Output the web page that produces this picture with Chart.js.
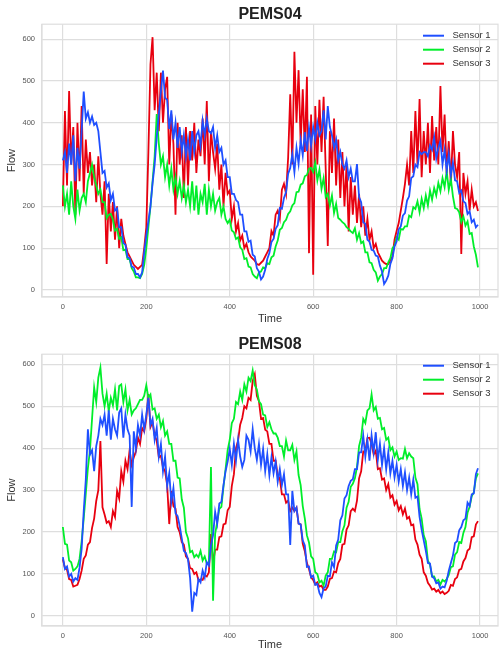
<!DOCTYPE html>
<html>
<head>
<meta charset="utf-8">
<script src="https://cdn.jsdelivr.net/npm/chart.js@4.4.1/dist/chart.umd.min.js"></script>
<style>
  body { margin: 0; background: #fff; }
  canvas { display: block; }
</style>
</head>
<body>
<canvas id="pems04" width="500" height="326"></canvas>
<canvas id="pems08" width="500" height="326"></canvas>
<script>
// sample every 5 time steps
const TIME = Array.from({ length: 200 }, (_, i) => i * 5);
const X_TICKS = [0, 200, 400, 600, 800, 1000];
const Y_TICKS = [0, 100, 200, 300, 400, 500, 600];
const SENSORS = ['Sensor 1', 'Sensor 2', 'Sensor 3'];

// PEMS04
const pems04S1 = [
  310, 330, 280, 350, 300, 370, 260, 340, 290, 380, 475, 410, 425, 400, 415, 395, 400, 380, 330, 280,
  285, 245, 255, 215, 230, 190, 195, 150, 150, 112, 108, 78, 76, 56, 54, 38, 38, 30, 42, 90,
  130, 165, 200, 255, 300, 365, 420, 475, 525, 460, 455, 385, 430, 360, 400, 340, 390, 330, 370, 320,
  360, 310, 380, 330, 370, 380, 345, 405, 370, 410, 380, 375, 390, 340, 370, 330, 340, 300, 310, 270,
  270, 230, 230, 215, 210, 180, 180, 140, 140, 115, 118, 84, 80, 52, 44, 25, 32, 48, 74, 88,
  115, 122, 146, 155, 196, 194, 220, 234, 278, 292, 325, 282, 340, 302, 358, 322, 378, 332, 388, 345,
  390, 360, 400, 370, 380, 430, 360, 440, 390, 370, 340, 360, 310, 330, 300, 290, 310, 270, 290, 260,
  260, 301, 222, 210, 162, 158, 120, 116, 96, 94, 82, 80, 58, 44, 14, 22, 34, 62, 76, 104,
  116, 145, 152, 178, 184, 214, 224, 268, 272, 300, 294, 330, 325, 330, 330, 320, 345, 335, 365, 315,
  340, 357, 300, 335, 285, 325, 275, 305, 262, 260, 232, 238, 212, 208, 182, 188, 162, 168, 150, 156
];
const pems04S2 = [
  250, 200, 230, 180, 260, 200, 170, 240, 190, 220, 230, 210, 260, 280, 300, 270, 250, 230, 240, 210,
  210, 172, 180, 182, 168, 142, 146, 122, 126, 95, 96, 74, 74, 52, 44, 30, 30, 28, 38, 60,
  100, 150, 200, 260, 320, 421, 350, 300, 320, 270, 300, 250, 290, 240, 270, 230, 260, 220, 250, 210,
  240, 200, 260, 190, 250, 180, 230, 210, 254, 180, 240, 200, 230, 190, 210, 220, 180, 200, 170, 160,
  168, 142, 138, 122, 126, 102, 96, 74, 76, 56, 54, 38, 32, 28, 42, 44, 54, 52, 64, 62,
  78, 82, 104, 118, 144, 148, 162, 168, 182, 188, 202, 208, 234, 235, 252, 255, 272, 275, 290, 292,
  282, 305, 262, 288, 242, 268, 222, 230, 202, 226, 184, 206, 172, 168, 162, 158, 150, 146, 140, 136,
  148, 120, 136, 112, 116, 90, 90, 66, 64, 48, 42, 22, 32, 38, 52, 52, 66, 76, 100, 106,
  126, 120, 146, 144, 152, 152, 178, 174, 198, 194, 212, 186, 218, 196, 226, 202, 238, 216, 244, 226,
  256, 236, 268, 246, 285, 240, 266, 224, 196, 194, 186, 162, 176, 154, 164, 134, 136, 104, 84, 54
];
const pems04S3 = [
  200, 428, 250, 476, 300, 390, 180, 400, 260, 440, 230, 360, 280, 330, 250, 300, 210, 320, 230, 180,
  260, 62, 230, 140, 210, 120, 200, 100, 170, 130, 110, 90, 80, 70, 60, 55, 50, 55, 60, 100,
  150, 330, 540, 605, 430, 520, 380, 520, 400, 480, 510, 300, 420, 350, 180, 400, 300, 370, 220, 390,
  250, 380, 310, 400, 280, 360, 320, 410, 300, 452, 260, 380, 330, 290, 350, 240, 300, 200, 280, 230,
  238, 170, 200, 140, 160, 118, 130, 100, 110, 90, 80, 75, 70, 62, 60, 65, 70, 80, 90, 100,
  141, 130, 180, 190, 170, 240, 254, 230, 317, 468, 300, 570, 400, 526, 350, 480, 330, 510, 88, 420,
  36, 440, 300, 455, 330, 462, 290, 105, 380, 280, 410, 250, 360, 220, 330, 200, 300, 140, 270, 180,
  250, 160, 230, 150, 200, 130, 170, 120, 140, 100, 110, 90, 80, 70, 65, 62, 62, 70, 80, 120,
  141, 160, 190, 220, 254, 300, 250, 380, 280, 428, 300, 457, 270, 380, 300, 400, 280, 416, 310, 390,
  300, 488, 330, 420, 280, 356, 250, 380, 300, 270, 330, 86, 280, 230, 260, 190, 240, 200, 210, 189
];

// PEMS08
const pems08S1 = [
  140, 112, 118, 94, 100, 82, 90, 86, 115, 160, 250, 325, 445, 385, 395, 345, 405, 430, 470, 455,
  480, 430, 490, 420, 470, 445, 430, 485, 495, 425, 480, 445, 430, 260, 440, 400, 455, 430, 480, 445,
  480, 520, 455, 470, 420, 448, 380, 410, 345, 380, 310, 340, 272, 305, 245, 238, 215, 185, 155, 150,
  135, 90, 10, 55, 50, 88, 80, 108, 92, 128, 120, 168, 192, 248, 220, 268, 272, 312, 345, 368,
  398, 360, 410, 370, 420, 380, 355, 372, 430, 420, 392, 445, 400, 372, 410, 360, 398, 345, 385, 335,
  378, 340, 368, 320, 350, 312, 338, 290, 290, 169, 298, 250, 258, 220, 218, 180, 168, 117, 118, 92,
  96, 74, 76, 55, 45, 66, 70, 96, 94, 128, 116, 168, 182, 228, 240, 280, 288, 310, 322, 326,
  350, 350, 390, 390, 430, 380, 420, 370, 430, 390, 438, 372, 410, 360, 400, 350, 390, 340, 370, 330,
  360, 320, 350, 310, 342, 300, 330, 290, 325, 282, 285, 236, 205, 180, 155, 126, 125, 94, 90, 78,
  80, 65, 70, 68, 84, 108, 126, 144, 174, 178, 204, 212, 228, 232, 270, 262, 290, 292, 338, 352
];
const pems08S2 = [
  212, 172, 170, 132, 128, 108, 112, 118, 136, 178, 232, 292, 352, 396, 470, 545, 510, 568, 592, 530,
  500, 530, 488, 520, 502, 540, 490, 548, 552, 510, 540, 490, 515, 480, 490, 495, 505, 515, 515, 525,
  550, 520, 528, 492, 495, 470, 480, 450, 465, 430, 440, 410, 410, 370, 370, 330, 328, 278, 258, 200,
  185, 152, 155, 140, 146, 140, 155, 132, 142, 125, 128, 355, 36, 196, 224, 255, 260, 308, 350, 395,
  420, 460, 470, 510, 505, 535, 515, 552, 535, 568, 560, 585, 550, 540, 512, 505, 480, 478, 450, 462,
  445, 435, 435, 425, 405, 405, 380, 418, 395, 395, 408, 372, 392, 336, 312, 262, 232, 192, 175, 142,
  136, 104, 100, 80, 84, 72, 96, 104, 136, 136, 154, 152, 176, 176, 202, 216, 258, 272, 308, 315,
  328, 355, 405, 425, 470, 460, 490, 495, 528, 490, 498, 470, 472, 445, 448, 420, 425, 395, 402, 380,
  392, 372, 376, 375, 398, 376, 388, 380, 376, 330, 314, 255, 232, 192, 178, 132, 122, 94, 94, 82,
  86, 75, 86, 82, 88, 98, 116, 118, 146, 152, 176, 174, 198, 212, 246, 260, 285, 295, 328, 340
];
const pems08S3 = [
  135, 114, 110, 88, 86, 70, 72, 74, 88, 108, 136, 144, 170, 176, 210, 232, 274, 300, 417, 259,
  242, 222, 226, 212, 250, 236, 298, 280, 345, 320, 370, 350, 395, 360, 378, 392, 425, 410, 448, 440,
  470, 529, 450, 462, 430, 418, 378, 382, 354, 345, 312, 219, 298, 262, 256, 212, 200, 176, 170, 142,
  136, 114, 112, 100, 104, 85, 87, 86, 97, 94, 104, 195, 126, 158, 158, 188, 190, 218, 220, 252,
  260, 310, 338, 400, 418, 456, 472, 500, 495, 520, 515, 560, 576, 525, 512, 470, 472, 444, 440, 410,
  410, 370, 370, 335, 328, 290, 290, 270, 275, 250, 258, 250, 258, 220, 218, 172, 154, 126, 112, 92,
  86, 75, 80, 70, 72, 62, 62, 70, 88, 90, 106, 104, 126, 136, 170, 172, 206, 216, 250, 256,
  250, 275, 328, 345, 392, 392, 424, 425, 410, 385, 394, 350, 352, 325, 328, 300, 314, 282, 288, 265,
  274, 252, 262, 242, 256, 232, 236, 216, 218, 182, 170, 146, 136, 104, 96, 79, 72, 63, 65, 58,
  62, 54, 58, 52, 55, 60, 74, 72, 88, 92, 110, 112, 130, 138, 156, 160, 188, 190, 218, 226
];

const COLORS = ['#1f4fff', '#00ee2a', '#e8000f'];
const GRID = '#dedede';
const FONT = '"Liberation Sans", Arial, sans-serif';

// matplotlib style full frame around the axes
const framePlugin = {
  id: 'frame',
  beforeDatasetsDraw(chart) {
    const { ctx, chartArea: a } = chart;
    ctx.save();
    ctx.strokeStyle = GRID;
    ctx.lineWidth = 1.2;
    ctx.strokeRect(a.left, a.top, a.right - a.left, a.bottom - a.top);
    ctx.restore();
  }
};

// legend drawn inside the plot, upper right, no box
const insideLegend = {
  id: 'insideLegend',
  afterDraw(chart) {
    const { ctx, chartArea: a } = chart;
    ctx.save();
    ctx.font = '9.5px ' + FONT;
    ctx.textBaseline = 'middle';
    chart.data.datasets.forEach((ds, i) => {
      const y = a.top + 11.5 + i * 14;
      ctx.strokeStyle = ds.borderColor;
      ctx.lineWidth = 2;
      ctx.beginPath();
      ctx.moveTo(a.right - 75, y);
      ctx.lineTo(a.right - 54, y);
      ctx.stroke();
      ctx.fillStyle = '#333';
      ctx.fillText(ds.label, a.right - 45.5, y);
    });
    ctx.restore();
  }
};

function makeChart(id, title, series, yMin, yMax, titleTop, xAxisH) {
  return new Chart(document.getElementById(id), {
    type: 'line',
    data: {
      labels: TIME,
      datasets: series.map((s, i) => ({
        label: SENSORS[i],
        data: s,
        borderColor: COLORS[i],
        borderWidth: 1.8,
        pointRadius: 0,
        tension: 0
      }))
    },
    options: {
      responsive: false,
      animation: false,
      layout: { padding: { left: 0, right: 2, top: 0, bottom: 0 } },
      plugins: {
        legend: { display: false },
        tooltip: { enabled: false },
        title: {
          display: true, text: title, fullSize: false, color: '#222',
          font: { family: FONT, size: 16, weight: 'bold' },
          padding: { top: titleTop, bottom: 0 }
        }
      },
      scales: {
        x: {
          type: 'linear', min: -50, max: 1043,
          afterBuildTicks: s => { s.ticks = X_TICKS.map(v => ({ value: v })); },
          afterFit: s => { s.height = xAxisH; },
          grid: { color: GRID, lineWidth: 1.2, drawTicks: false },
          border: { color: GRID, width: 1.2 },
          ticks: { padding: 5, maxRotation: 0, color: '#555', font: { family: FONT, size: 7.5 }, callback: v => String(v) },
          title: { display: true, text: 'Time', color: '#333', font: { family: FONT, size: 11 }, padding: 0 }
        },
        y: {
          min: yMin, max: yMax,
          afterBuildTicks: s => { s.ticks = Y_TICKS.map(v => ({ value: v })); },
          afterFit: s => { s.width = 42; },
          grid: { color: GRID, lineWidth: 1.2, drawTicks: false },
          border: { color: GRID, width: 1.2 },
          ticks: { padding: 7, color: '#555', font: { family: FONT, size: 7.5 }, callback: v => String(v) },
          title: { display: true, text: 'Flow', color: '#333', font: { family: FONT, size: 11 }, padding: { top: 5, bottom: 0 } }
        }
      }
    },
    plugins: [framePlugin, insideLegend]
  });
}

makeChart('pems04', 'PEMS04', [pems04S1, pems04S2, pems04S3], -17, 636, 5, 29);
makeChart('pems08', 'PEMS08', [pems08S1, pems08S2, pems08S3], -24, 624, 9, 26);
</script>
</body>
</html>
